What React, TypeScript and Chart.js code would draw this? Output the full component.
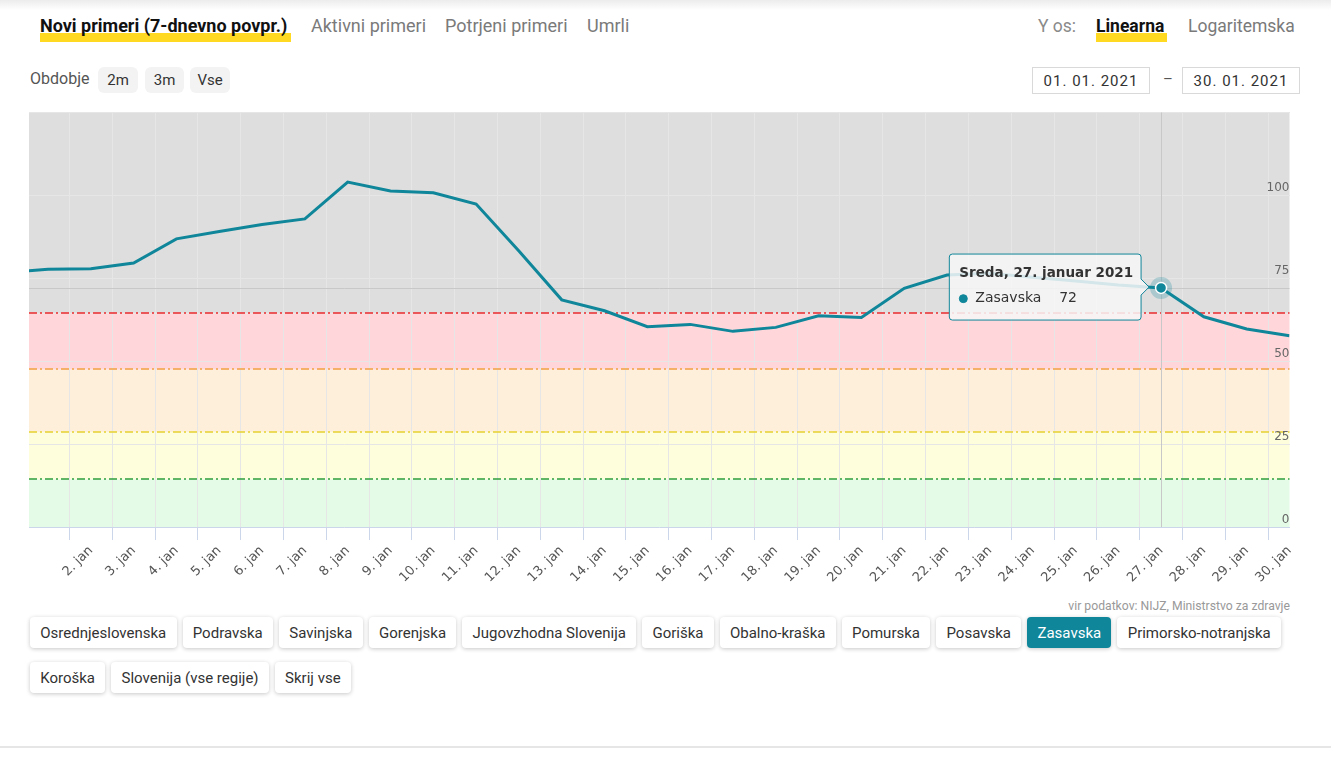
import React, { useEffect, useRef } from 'react';
import { Chart, registerables } from 'chart.js';

Chart.register(...registerables);

// ---- data -------------------------------------------------------------
// Day of January 2021 (0 = 31. 12. 2020, just left of the visible window)
const DAYS = [0, 1, 2, 3, 4, 5, 6, 7, 8, 9, 10, 11, 12, 13, 14, 15, 16, 17, 18, 19, 20, 21, 22, 23, 24, 25, 26, 27, 28, 29, 30];
// Zasavska, new cases (7-day average)
const ZASAVSKA = [76.7, 77.7, 77.9, 79.6, 86.9, 89.1, 91.2, 92.9, 104.0, 101.3, 100.8, 97.4, 83.2, 68.5, 65.2, 60.4, 61.1, 59.0, 60.2, 63.7, 63.2, 72.0, 76.0, 76.5, 75.3, 74.2, 73.0, 72.1, 63.4, 59.7, 57.7];
const SERIES_NAME = 'Zasavska';
const X_TICK_DAYS = [2, 3, 4, 5, 6, 7, 8, 9, 10, 11, 12, 13, 14, 15, 16, 17, 18, 19, 20, 21, 22, 23, 24, 25, 26, 27, 28, 29, 30];
const X_MONTH = 'jan';
const MONTH_NAME = 'januar';
const YEAR = 2021;
const WEEKDAYS = ['Nedelja', 'Ponedeljek', 'Torek', 'Sreda', 'Četrtek', 'Petek', 'Sobota'];
const Y_TICKS = [0, 25, 50, 75, 100];
const Y_MAX = 125;
const X_MIN = 0.556;
const X_MAX = 30;
const HOVER_DAY = 27;
// Threshold levels (lower bound of each coloured band above green)
const THRESHOLDS = [14.4, 28.6, 47.5, 64.4];

const TABS = ['Aktivni primeri', 'Potrjeni primeri', 'Umrli'];
const REGION_ROW_1 = ['Osrednjeslovenska', 'Podravska', 'Savinjska', 'Gorenjska', 'Jugovzhodna Slovenija', 'Goriška', 'Obalno-kraška', 'Pomurska', 'Posavska', 'Zasavska', 'Primorsko-notranjska'];
const REGION_ROW_2 = ['Koroška', 'Slovenija (vse regije)', 'Skrij vse'];
const PERIODS = ['2m', '3m', 'Vse'];

// ---- styles -----------------------------------------------------------
const TEAL = '#10869a';
const YELLOW = '#ffd922';
const BAND_COLORS = ['#e3fbe7', '#fefedc', '#fdefd9', '#ffd7db', '#dedede'];
const THRESHOLD_COLORS = ['#2e9e3e', '#e6d230', '#f2a341', '#ec2a2e'];
const UI_FONT = 'Roboto, "Noto Sans", sans-serif';
const CHART_FONT = '"DejaVu Sans", Verdana, sans-serif';

function formatDate(day: number) {
  const d = new Date(YEAR, 0, day);
  return `${WEEKDAYS[d.getDay()]}, ${day}. ${MONTH_NAME} ${YEAR}`;
}

const decorPlugin = {
  id: 'decor',
  beforeDraw(chart: any) {
    const { ctx, chartArea: a, scales } = chart;
    const y = scales.y;
    const edges = [0, ...THRESHOLDS, Y_MAX];
    ctx.save();
    for (let i = 0; i < BAND_COLORS.length; i++) {
      const y1 = y.getPixelForValue(edges[i + 1]);
      const y0 = y.getPixelForValue(edges[i]);
      ctx.fillStyle = BAND_COLORS[i];
      ctx.fillRect(a.left, y1, a.right - a.left, y0 - y1);
    }
    ctx.restore();
  },
  beforeDatasetsDraw(chart: any) {
    const { ctx, chartArea: a, scales } = chart;
    const y = scales.y;
    ctx.save();
    ctx.lineWidth = 1.5;
    ctx.setLineDash([8, 3, 2, 3]);
    THRESHOLDS.forEach((t, i) => {
      const py = Math.round(y.getPixelForValue(t));
      ctx.strokeStyle = THRESHOLD_COLORS[i];
      ctx.beginPath();
      ctx.moveTo(a.left, py);
      ctx.lineTo(a.right, py);
      ctx.stroke();
    });
    ctx.setLineDash([]);
    // crosshair at hovered point
    const idx = DAYS.indexOf(HOVER_DAY);
    const el = chart.getDatasetMeta(0).data[idx];
    if (el) {
      ctx.strokeStyle = '#c8c8c8';
      ctx.lineWidth = 1;
      const px = Math.round(el.x) + 0.5;
      const py = Math.round(el.y) + 0.5;
      ctx.beginPath();
      ctx.moveTo(px, a.top);
      ctx.lineTo(px, a.bottom);
      ctx.moveTo(a.left, py);
      ctx.lineTo(a.right, py);
      ctx.stroke();
    }
    ctx.restore();
  },
  afterDatasetsDraw(chart: any) {
    const { ctx, chartArea: a, scales } = chart;
    const y = scales.y;
    ctx.save();
    ctx.font = `12px ${CHART_FONT}`;
    ctx.fillStyle = '#666666';
    ctx.textAlign = 'right';
    ctx.textBaseline = 'alphabetic';
    Y_TICKS.forEach((v) => {
      ctx.fillText(String(v), a.right, y.getPixelForValue(v) - 4.5);
    });
    const idx = DAYS.indexOf(HOVER_DAY);
    const el = chart.getDatasetMeta(0).data[idx];
    if (el) {
      ctx.beginPath();
      ctx.arc(el.x, el.y, 11, 0, Math.PI * 2);
      ctx.fillStyle = 'rgba(16,134,154,0.25)';
      ctx.fill();
      ctx.beginPath();
      ctx.arc(el.x, el.y, 5.5, 0, Math.PI * 2);
      ctx.fillStyle = TEAL;
      ctx.fill();
      ctx.lineWidth = 1.5;
      ctx.strokeStyle = '#ffffff';
      ctx.stroke();
    }
    ctx.restore();
  },
};

function LineChart() {
  const ref = useRef<HTMLCanvasElement | null>(null);
  useEffect(() => {
    if (!ref.current) return;
    const chart = new Chart(ref.current, {
      type: 'line',
      data: {
        datasets: [
          {
            label: SERIES_NAME,
            data: DAYS.map((d, i) => ({ x: d, y: ZASAVSKA[i] })),
            borderColor: TEAL,
            backgroundColor: TEAL,
            borderWidth: 3,
            pointRadius: 0,
            pointHoverRadius: 0,
            tension: 0,
          },
        ],
      },
      options: {
        responsive: false,
        animation: false,
        devicePixelRatio: 1,
        events: [],
        layout: { padding: { left: 29, right: 41.5, top: 0, bottom: 0 } },
        plugins: {
          legend: { display: false },
          tooltip: {
            enabled: true,
            backgroundColor: 'rgba(247,247,247,0.85)',
            borderColor: TEAL,
            borderWidth: 1,
            cornerRadius: 3,
            xAlign: 'right',
            yAlign: 'center',
            caretSize: 8,
            caretPadding: 12,
            padding: { top: 11, bottom: 13, left: 10, right: 8 },
            titleColor: '#333333',
            titleFont: { family: CHART_FONT, size: 13.5, weight: 'bold' },
            titleMarginBottom: 9,
            bodyColor: '#333333',
            bodyFont: { family: CHART_FONT, size: 14 },
            displayColors: true,
            usePointStyle: true,
            boxWidth: 8,
            boxHeight: 8,
            boxPadding: 6,
            callbacks: {
              title: (items: any[]) => formatDate(items[0].parsed.x),
              label: (item: any) => `${SERIES_NAME}    ${Math.round(item.parsed.y)}`,
              labelColor: () => ({ borderColor: TEAL, backgroundColor: TEAL }),
              labelPointStyle: () => ({ pointStyle: 'circle', rotation: 0 }),
            },
          },
        },
        scales: {
          x: {
            type: 'linear',
            min: X_MIN,
            max: X_MAX,
            afterBuildTicks: (s: any) => {
              s.ticks = X_TICK_DAYS.map((v) => ({ value: v }));
            },
            afterFit: (s: any) => {
              s.height = 70;
            },
            grid: { offset: true, color: '#e6e6e6', tickColor: '#ccd6eb', tickLength: 13, lineWidth: 1 },
            border: { color: '#ccd6eb', width: 1 },
            ticks: {
              autoSkip: false,
              minRotation: 45,
              maxRotation: 45,
              padding: 3,
              color: '#555555',
              font: { family: CHART_FONT, size: 13 },
              callback: (v: any) => `${v}. ${X_MONTH}`,
            },
          },
          y: {
            position: 'right',
            min: 0,
            max: Y_MAX,
            afterBuildTicks: (s: any) => {
              s.ticks = [...Y_TICKS, Y_MAX].map((v) => ({ value: v }));
            },
            afterFit: (s: any) => {
              s.width = 0;
            },
            grid: { color: '#e6e6e6', drawTicks: false },
            border: { display: false },
            ticks: { display: false },
          },
        },
      },
      plugins: [decorPlugin],
    } as any);
    const idx = DAYS.indexOf(HOVER_DAY);
    const el: any = chart.getDatasetMeta(0).data[idx];
    chart.tooltip!.setActiveElements([{ datasetIndex: 0, index: idx }], { x: el.x, y: el.y });
    chart.update();
    return () => chart.destroy();
  }, []);
  return <canvas ref={ref} width={1331} height={486} style={{ position: 'absolute', left: 0, top: 111 }} />;
}

const abs = (left: number, top: number, extra: React.CSSProperties = {}): React.CSSProperties => ({
  position: 'absolute',
  left,
  top,
  whiteSpace: 'nowrap',
  ...extra,
});

const TAB_LEFTS = [311, 445, 587];

function RegionButton({ label }: { label: string }) {
  const active = label === SERIES_NAME;
  return (
    <div
      style={{
        height: 31,
        padding: '0 10.25px',
        display: 'flex',
        alignItems: 'center',
        borderRadius: 4,
        background: active ? TEAL : '#ffffff',
        color: active ? '#ffffff' : '#333333',
        boxShadow: '0 1px 4px rgba(0,0,0,0.22)',
        fontSize: 15,
        whiteSpace: 'nowrap',
      }}
    >
      {label}
    </div>
  );
}

export default function App() {
  return (
    <div style={{ position: 'relative', width: 1331, height: 766, fontFamily: UI_FONT, background: '#fff', overflow: 'hidden' }}>
      <style>{`body{margin:0}`}</style>
      <div style={abs(0, 0, { width: 1331, height: 10, background: 'linear-gradient(#ececec, #ffffff)' })} />

      {/* metric tabs */}
      <div style={abs(40, 33, { width: 251, height: 9, background: YELLOW })} />
      <div style={abs(40, 14, { fontSize: 18, lineHeight: '24px', fontWeight: 700, color: '#111' })}>Novi primeri (7-dnevno povpr.)</div>
      {TABS.map((t, i) => (
        <div key={t} style={abs(TAB_LEFTS[i], 14, { fontSize: 18, lineHeight: '24px', color: '#7a7a7a' })}>{t}</div>
      ))}

      {/* y axis type */}
      <div style={abs(1038, 14, { fontSize: 17.5, lineHeight: '24px', color: '#8a8a8a' })}>Y os:</div>
      <div style={abs(1096, 33, { width: 71, height: 9, background: YELLOW })} />
      <div style={abs(1096, 14, { fontSize: 17.5, lineHeight: '24px', fontWeight: 700, color: '#111' })}>Linearna</div>
      <div style={abs(1188, 14, { fontSize: 17.5, lineHeight: '24px', color: '#7a7a7a' })}>Logaritemska</div>

      {/* period */}
      <div style={abs(30, 69, { fontSize: 16, lineHeight: '20px', color: '#555' })}>Obdobje</div>
      {PERIODS.map((p, i) => (
        <div
          key={p}
          style={abs([98, 145, 190][i], 67, {
            width: [40, 39, 40][i],
            height: 26,
            borderRadius: 6,
            background: '#f3f3f3',
            display: 'flex',
            alignItems: 'center',
            justifyContent: 'center',
            fontSize: 15,
            color: '#333',
          })}
        >
          {p}
        </div>
      ))}

      {/* date range */}
      {['01. 01. 2021', '30. 01. 2021'].map((d, i) => (
        <div
          key={d}
          style={abs([1032, 1182][i], 67, {
            width: 116,
            height: 25,
            border: '1px solid #d9d9d9',
            display: 'flex',
            alignItems: 'center',
            justifyContent: 'center',
            fontSize: 15,
            letterSpacing: 1,
            color: '#333',
          })}
        >
          {d}
        </div>
      ))}
      <div style={abs(1163, 69, { fontSize: 15, lineHeight: '20px', color: '#555' })}>–</div>

      <LineChart />

      <div style={{ position: 'absolute', right: 41, top: 598, fontSize: 12.2, lineHeight: '16px', color: '#999', whiteSpace: 'nowrap' }}>
        vir podatkov: NIJZ, Ministrstvo za zdravje
      </div>

      <div style={abs(30, 617, { display: 'flex', gap: 6 })}>
        {REGION_ROW_1.map((r) => (
          <RegionButton key={r} label={r} />
        ))}
      </div>
      <div style={abs(30, 662, { display: 'flex', gap: 6 })}>
        {REGION_ROW_2.map((r) => (
          <RegionButton key={r} label={r} />
        ))}
      </div>

      <div style={abs(0, 746, { width: 1331, height: 2, background: '#e6e6e6' })} />
    </div>
  );
}
